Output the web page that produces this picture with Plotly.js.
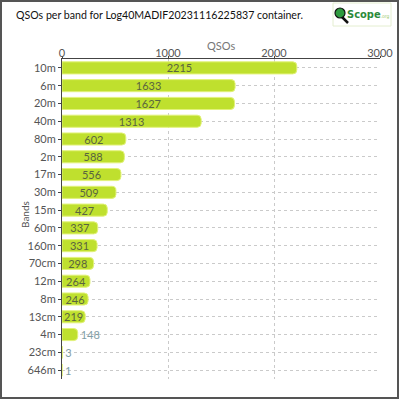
<!DOCTYPE html>
<html>
<head>
<meta charset="utf-8">
<script src="https://cdn.plot.ly/plotly-3.0.1.min.js"></script>
<style>
  html, body { margin: 0; padding: 0; background: #fff; }
  #chart { width: 400px; height: 400px; }
</style>
</head>
<body>
<div id="chart"></div>
<script>
// bands, sorted by count (top to bottom)
const bands = ['10m', '6m', '20m', '40m', '80m', '2m', '17m', '30m', '15m', '60m',
               '160m', '70cm', '12m', '8m', '13cm', '4m', '23cm', '646m'];
const qsos = [2215, 1633, 1627, 1313, 602, 588, 556, 509, 427, 337,
              331, 298, 264, 246, 219, 148, 3, 1];

const FONT = 'Lato, "DejaVu Sans", sans-serif';

// plot area in pixels: left 62, top 59, width 318, height 320
const px = x => (x - 62) / 318;
const py = y => (379 - y) / 320;

const trace = {
    type: 'bar',
    orientation: 'h',
    x: qsos,
    y: bands,
    text: qsos.map(String),
    textposition: qsos.map(v => v >= 200 ? 'inside' : 'outside'),
    insidetextanchor: 'middle',
    insidetextfont: { color: '#5a6440', size: 11, family: FONT },
    outsidetextfont: { color: '#7f9ea6', size: 11, family: FONT },
    constraintext: 'none',
    cliponaxis: false,
    width: 0.68,
    marker: {
        color: '#bfe02e',
        line: { color: '#e2f27a', width: 1 },
        cornerradius: 4,
    },
    hoverinfo: 'none',
};

const layout = {
    width: 400,
    height: 400,
    margin: { l: 62, r: 20, t: 59, b: 21 },
    paper_bgcolor: '#fff',
    plot_bgcolor: '#fff',
    font: { family: FONT, color: '#444', size: 11 },
    showlegend: false,
    uniformtext: { mode: 'show', minsize: 11 },
    title: {
        text: 'QSOs per band for Log40MADIF20231116225837 container.',
        xref: 'container', x: 16 / 400, xanchor: 'left',
        yref: 'container', y: 1 - 15 / 400, yanchor: 'middle',
        font: { size: 10.6, color: '#111', family: FONT },
    },
    xaxis: {
        side: 'top',
        range: [0, 3000],
        dtick: 1000,
        showline: true,
        linecolor: '#444',
        linewidth: 1,
        ticks: 'outside',
        ticklen: 2,
        tickcolor: '#444',
        ticklabelstandoff: -5,
        showgrid: true,
        gridcolor: '#cacaca',
        griddash: '3px,3px',
        zeroline: false,
        tickfont: { size: 11, color: '#555' },
    },
    yaxis: {
        autorange: 'reversed',
        showline: true,
        linecolor: '#444',
        ticks: 'outside',
        ticklen: 3,
        tickcolor: '#444',
        showgrid: true,
        gridcolor: '#cacaca',
        griddash: '3px,3px',
        tickfont: { size: 11, color: '#555' },
    },
    shapes: [
        // outer frame
        { type: 'rect', xref: 'paper', yref: 'paper',
          x0: px(1), x1: px(398), y0: py(398), y1: py(1),
          line: { color: '#555', width: 2 }, fillcolor: 'rgba(0,0,0,0)' },
        // logo box
        { type: 'rect', xref: 'paper', yref: 'paper',
          x0: px(333), x1: px(391), y0: py(26), y1: py(3),
          line: { color: '#e4eed0', width: 1 }, fillcolor: '#fff' },
        // magnifier handle
        { type: 'line', xref: 'paper', yref: 'paper',
          x0: px(341), x1: px(348), y0: py(16), y1: py(23),
          line: { color: '#111', width: 2.5 } },
        // magnifier lens
        { type: 'circle', xref: 'paper', yref: 'paper',
          x0: px(335), x1: px(345), y0: py(18), y1: py(8),
          line: { color: '#111', width: 1.2 }, fillcolor: '#2e9a3e' },
    ],
    annotations: [
        // axis titles
        { xref: 'paper', yref: 'paper', showarrow: false,
          x: 0.5, y: py(45), xanchor: 'center', yanchor: 'middle',
          text: 'QSOs', font: { size: 11, color: '#777' } },
        { xref: 'paper', yref: 'paper', showarrow: false,
          x: px(25), y: py(215), xanchor: 'center', yanchor: 'middle', textangle: -90,
          text: 'Bands', font: { size: 10, color: '#555' } },
        // logo text
        { xref: 'paper', yref: 'paper', showarrow: false,
          x: px(345), y: py(14), xanchor: 'left', yanchor: 'middle',
          text: '<b>Scope</b><span style="font-size:5px;color:#9cc96a">.org</span>',
          font: { size: 11, color: '#2c8a3a', family: '"DejaVu Sans Condensed", sans-serif' } },
    ],
};

Plotly.newPlot('chart', [trace], layout, { staticPlot: true, displayModeBar: false });
</script>
</body>
</html>
